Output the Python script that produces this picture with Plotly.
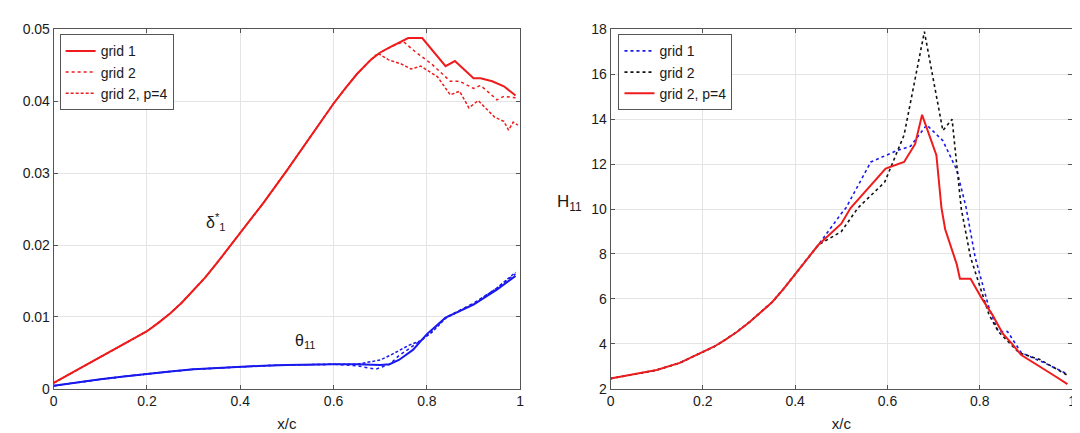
import plotly.graph_objects as go

# ---------------- data: left panel (delta*_1 and theta_11) ----------------
d_common_x = [0, 0.025, 0.05, 0.075, 0.1, 0.125, 0.15, 0.175, 0.2, 0.225, 0.25, 0.275, 0.3, 0.325,
              0.35, 0.375, 0.4, 0.45, 0.5, 0.55, 0.6, 0.625, 0.65, 0.68]
d_common_y = [0.0008, 0.0017, 0.0026, 0.0035, 0.0044, 0.0052, 0.0061, 0.0070, 0.0080, 0.0092,
              0.0105, 0.0120, 0.0137, 0.0155, 0.0175, 0.0196, 0.0217, 0.0259, 0.0304, 0.0350,
              0.0397, 0.0418, 0.0438, 0.0458]

d_g1_x = [0.7, 0.72, 0.76, 0.79, 0.84, 0.86, 0.9, 0.915, 0.94, 0.965, 0.99]
d_g1_y = [0.0468, 0.0475, 0.0488, 0.0488, 0.0449, 0.0456, 0.0432, 0.0432, 0.0428, 0.0421, 0.0408]

d_g2_x = [0.7, 0.73, 0.75, 0.775, 0.81, 0.85, 0.87, 0.9, 0.915, 0.935, 0.95, 0.965, 0.99]
d_g2_y = [0.0468, 0.0478, 0.0483, 0.0469, 0.0452, 0.0428, 0.0428, 0.0418, 0.0422, 0.0411, 0.0402, 0.0407, 0.0405]

d_p4_x = [0.695, 0.717, 0.745, 0.766, 0.787, 0.823, 0.85, 0.87, 0.89, 0.91, 0.945, 0.965, 0.975, 0.985, 0.995]
d_p4_y = [0.0467, 0.0458, 0.0452, 0.0445, 0.0449, 0.0434, 0.0409, 0.0414, 0.0391, 0.0401, 0.0378,
          0.0372, 0.0360, 0.0371, 0.0367]

t_common_x = [0, 0.05, 0.1, 0.15, 0.2, 0.25, 0.3, 0.35, 0.4, 0.45, 0.5, 0.55, 0.6]
t_common_y = [0.0004, 0.0009, 0.0013, 0.0017, 0.0021, 0.0024, 0.0027, 0.0029, 0.0031, 0.0032,
              0.0033, 0.0034, 0.0034]

t_g1_x = [0.65, 0.7, 0.72, 0.74, 0.77, 0.80, 0.84, 0.87, 0.90, 0.95, 0.99]
t_g1_y = [0.0034, 0.0033, 0.0034, 0.0040, 0.0054, 0.0076, 0.0099, 0.0108, 0.0117, 0.0138, 0.0157]

t_g2_x = [0.65, 0.69, 0.72, 0.74, 0.787, 0.81, 0.84, 0.9, 0.95, 0.99]
t_g2_y = [0.0032, 0.0027, 0.0034, 0.0046, 0.0067, 0.0080, 0.0099, 0.0119, 0.0140, 0.0160]

t_p4_x = [0.65, 0.70, 0.72, 0.76, 0.787, 0.81, 0.84, 0.9, 0.95, 0.99]
t_p4_y = [0.0034, 0.0040, 0.0046, 0.0060, 0.0067, 0.0078, 0.0098, 0.0118, 0.0140, 0.0162]

# ---------------- data: right panel (H_11) ----------------
h_common_x = [0, 0.05, 0.1, 0.15, 0.2, 0.225, 0.25, 0.275, 0.3, 0.325, 0.35, 0.375, 0.4, 0.425, 0.45]
h_common_y = [2.45, 2.63, 2.83, 3.15, 3.62, 3.88, 4.2, 4.55, 4.95, 5.38, 5.85, 6.45, 7.1, 7.75, 8.4]

h_g1_x = [0.5, 0.51, 0.564, 0.62, 0.65, 0.685, 0.72, 0.75, 0.77, 0.79, 0.82, 0.84, 0.86, 0.89, 0.94, 0.99]
h_g1_y = [9.8, 10.05, 12.1, 12.6, 12.8, 13.75, 13.05, 11.75, 10.1, 7.85, 5.6, 4.55, 4.55, 3.6, 3.15, 2.65]

h_g2_x = [0.5, 0.536, 0.594, 0.636, 0.68, 0.72, 0.74, 0.75, 0.76, 0.78, 0.82, 0.84, 0.885, 0.93, 0.99]
h_g2_y = [9.0, 10.05, 11.2, 13.3, 17.9, 13.5, 14.0, 11.9, 10.0, 7.85, 5.3, 4.55, 3.6, 3.3, 2.6]

h_p4_x = [0.5, 0.52, 0.596, 0.636, 0.66, 0.675, 0.706, 0.717, 0.725, 0.75, 0.757, 0.78, 0.805,
          0.827, 0.85, 0.87, 0.89, 0.93, 0.96, 0.99]
h_p4_y = [9.35, 10.05, 11.8, 12.1, 12.9, 14.2, 12.4, 10.05, 9.1, 7.55, 6.9, 6.9, 6.0,
          5.3, 4.45, 4.0, 3.5, 3.0, 2.6, 2.2]

legend_labels = ["grid 1", "grid 2", "grid 2, p=4"]
x_ticks = [0, 0.2, 0.4, 0.6, 0.8, 1]
x_tick_text = ["0", "0.2", "0.4", "0.6", "0.8", "1"]
left_y_ticks = [0, 0.01, 0.02, 0.03, 0.04, 0.05]
left_y_text = ["0", "0.01", "0.02", "0.03", "0.04", "0.05"]
right_y_ticks = [2, 4, 6, 8, 10, 12, 14, 16, 18]

RED = "#ee1c1c"
BLUE = "#1a1aee"
BLACK = "#111111"

fig = go.Figure()


def join(a, b):
    return list(a) + list(b)


# left panel: delta*
fig.add_trace(go.Scatter(x=join(d_common_x, d_g1_x), y=join(d_common_y, d_g1_y), mode="lines",
                         line=dict(color=RED, width=2), name=legend_labels[0],
                         xaxis="x", yaxis="y", legend="legend"))
fig.add_trace(go.Scatter(x=join(d_common_x, d_g2_x), y=join(d_common_y, d_g2_y), mode="lines",
                         line=dict(color=RED, width=1.5, dash="dot"), name=legend_labels[1],
                         xaxis="x", yaxis="y", legend="legend"))
fig.add_trace(go.Scatter(x=join(d_common_x, d_p4_x), y=join(d_common_y, d_p4_y), mode="lines",
                         line=dict(color=RED, width=1.5, dash="3px,2px"), name=legend_labels[2],
                         xaxis="x", yaxis="y", legend="legend"))
# left panel: theta
fig.add_trace(go.Scatter(x=join(t_common_x, t_g1_x), y=join(t_common_y, t_g1_y), mode="lines",
                         line=dict(color=BLUE, width=2), showlegend=False, xaxis="x", yaxis="y"))
fig.add_trace(go.Scatter(x=join(t_common_x, t_g2_x), y=join(t_common_y, t_g2_y), mode="lines",
                         line=dict(color=BLUE, width=1.5, dash="dot"), showlegend=False, xaxis="x", yaxis="y"))
fig.add_trace(go.Scatter(x=join(t_common_x, t_p4_x), y=join(t_common_y, t_p4_y), mode="lines",
                         line=dict(color=BLUE, width=1.5, dash="3px,2px"), showlegend=False, xaxis="x", yaxis="y"))

# right panel: H11
fig.add_trace(go.Scatter(x=join(h_common_x, h_g1_x), y=join(h_common_y, h_g1_y), mode="lines",
                         line=dict(color=BLUE, width=1.6, dash="dot"), name=legend_labels[0],
                         xaxis="x2", yaxis="y2", legend="legend2"))
fig.add_trace(go.Scatter(x=join(h_common_x, h_g2_x), y=join(h_common_y, h_g2_y), mode="lines",
                         line=dict(color=BLACK, width=1.6, dash="dot"), name=legend_labels[1],
                         xaxis="x2", yaxis="y2", legend="legend2"))
fig.add_trace(go.Scatter(x=join(h_common_x, h_p4_x), y=join(h_common_y, h_p4_y), mode="lines",
                         line=dict(color=RED, width=2), name=legend_labels[2],
                         xaxis="x2", yaxis="y2", legend="legend2"))

FONT = "Liberation Sans, Arial, sans-serif"
TXT = "#1a1a1a"
axis_common = dict(showline=True, linecolor="#555555", linewidth=1, mirror="ticks",
                   ticks="inside", ticklen=4, tickcolor="#555555",
                   showgrid=True, gridcolor="#e4e4e4", gridwidth=1, zeroline=False,
                   tickfont=dict(family=FONT, size=14, color=TXT))

y_dom = [46 / 433, 419 / 433]
fig.update_layout(
    width=1080, height=433,
    margin=dict(l=0, r=0, t=0, b=0),
    paper_bgcolor="white", plot_bgcolor="white",
    font=dict(family=FONT, size=14, color=TXT),
    xaxis=dict(domain=[42 / 1080, 512 / 1080], range=[0, 1], tickvals=x_ticks, ticktext=x_tick_text,
               title=dict(text="x/c", font=dict(family=FONT, size=15, color=TXT), standoff=9),
               anchor="y", **axis_common),
    yaxis=dict(domain=y_dom, range=[0, 0.05], tickvals=left_y_ticks, ticktext=left_y_text,
               anchor="x", **axis_common),
    xaxis2=dict(domain=[603 / 1080, 1068 / 1080], range=[0, 1], tickvals=x_ticks, ticktext=x_tick_text,
                title=dict(text="x/c", font=dict(family=FONT, size=15, color=TXT), standoff=9),
                anchor="y2", **axis_common),
    yaxis2=dict(domain=y_dom, range=[2, 18], tickvals=right_y_ticks, anchor="x2", **axis_common),
    legend=dict(x=48 / 1080, y=1 - 19 / 433, xanchor="left", yanchor="top",
                bgcolor="white", bordercolor="#555555", borderwidth=1,
                font=dict(family=FONT, size=14, color=TXT),
                tracegroupgap=0, itemwidth=30),
    legend2=dict(x=611 / 1080, y=1 - 19 / 433, xanchor="left", yanchor="top",
                 bgcolor="white", bordercolor="#555555", borderwidth=1,
                 font=dict(family=FONT, size=14, color=TXT),
                 tracegroupgap=0, itemwidth=30),
    annotations=[
        dict(text="δ<sup>*</sup><sub>1</sub>", x=0.347, y=0.0232, xref="x", yref="y",
             showarrow=False, font=dict(family=FONT, size=16, color=TXT)),
        dict(text="θ<sub>11</sub>", x=0.54, y=0.0066, xref="x", yref="y",
             showarrow=False, font=dict(family=FONT, size=16, color=TXT)),
        dict(text="H<sub>11</sub>", x=562 / 1080, y=1 - 194 / 433, xref="paper", yref="paper",
             showarrow=False, font=dict(family=FONT, size=17, color=TXT)),
    ],
)

fig.write_html("out.html")
